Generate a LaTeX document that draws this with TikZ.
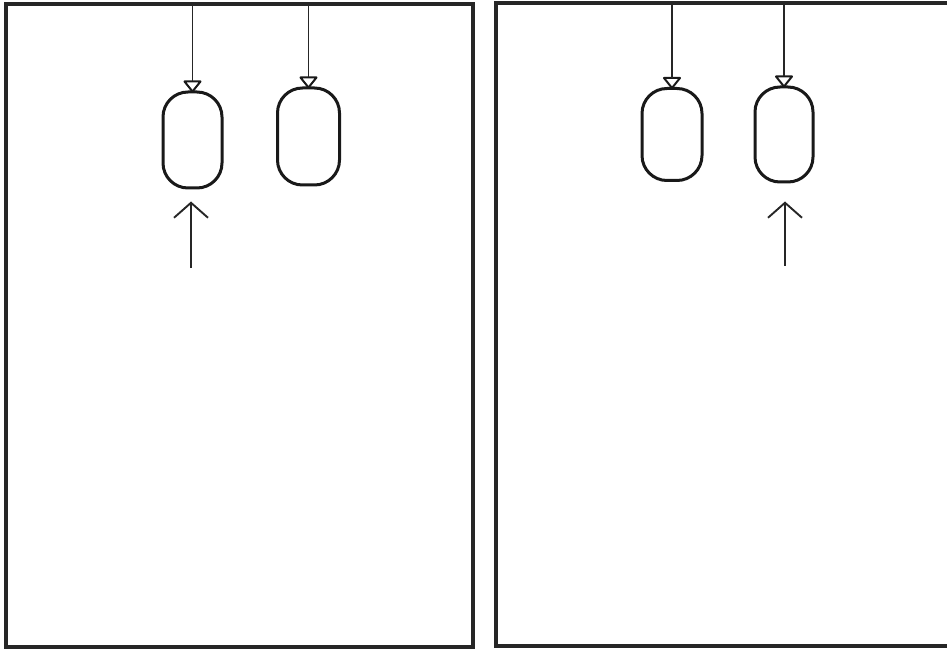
\documentclass[tikz,border=0pt]{standalone}
\usetikzlibrary{arrows.meta,calc}
\tikzset{
  frame/.style={draw=black!85, line width=3.4pt},
  balloon/.style={draw=black!90, line width=3pt, rounded corners=25pt, inner sep=0pt},
  stringline/.style={draw=black!85, line width=1.8pt},
  knot/.style={draw=black!90, line width=2pt, line join=round},
  lift/.style={draw=black!85, line width=1.9pt, -{Straight Barb[length=15pt,width=34pt,line width=1.9pt]}}
}
\newcommand{\knotat}[1]{%
  \draw[knot] ($(#1)+(0,1)$) -- ($(#1)+(-8,-9)$) -- ($(#1)+(8,-9)$) -- cycle;}
\begin{document}
\begin{tikzpicture}[x=1pt,y=-1pt]
\useasboundingbox (0,0) rectangle (947,652);
% panels
\draw[frame] (6,4) -- (473,4) -- (473,647) -- (6,647) -- cycle;
\draw[frame] (960,3) -- (496,3) -- (496,646) -- (960,646);
% balloons
\node[balloon, minimum width=59pt, minimum height=96pt] (b1) at (192.5,140) {};
\node[balloon, minimum width=62pt, minimum height=97pt] (b2) at (308.5,136.5) {};
\node[balloon, minimum width=60pt, minimum height=92pt] (b3) at (672,134.5) {};
\node[balloon, minimum width=58pt, minimum height=95pt] (b4) at (784,134.5) {};
% knots
\knotat{b1.north}
\knotat{b2.north}
\knotat{b3.north}
\knotat{b4.north}
% string tops
\coordinate (t1) at (192.5,3);
\coordinate (t2) at (308.5,3);
\coordinate (t3) at (672,3);
\coordinate (t4) at (784,3);
\draw[stringline] (t1) -- ($(b1.north)+(0,-9)$);
\draw[stringline] (t2) -- ($(b2.north)+(0,-9)$);
\draw[stringline] (t3) -- ($(b3.north)+(0,-9)$);
\draw[stringline] (t4) -- ($(b4.north)+(0,-9)$);
% lift arrows
\coordinate (a1) at (191,268);
\coordinate (a4) at (785,266);
\draw[lift, shorten >=12pt] (a1) -- (a1 |- b1.south);
\draw[lift, shorten >=18pt] (a4) -- (a4 |- b4.south);
\end{tikzpicture}
\end{document}
